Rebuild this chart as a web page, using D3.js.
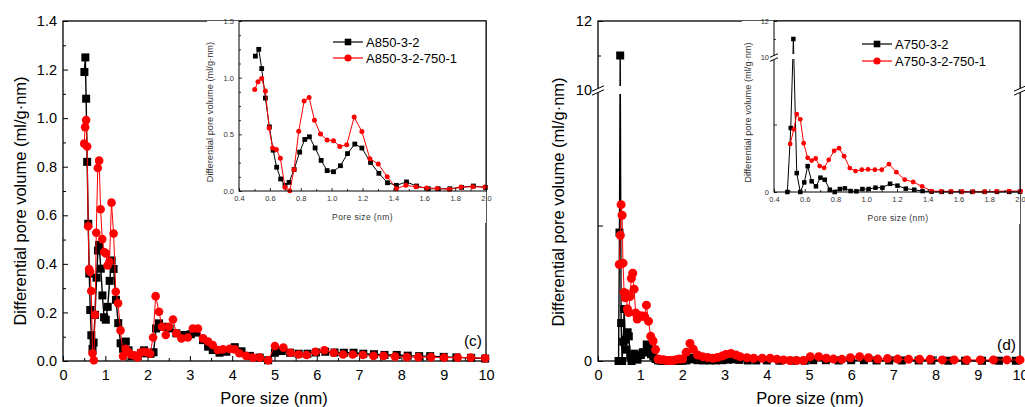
<!DOCTYPE html>
<html><head><meta charset="utf-8">
<script src="https://cdn.jsdelivr.net/npm/d3@7"></script>
<style>body{margin:0;background:#fff} svg{display:block} text{font-family:"Liberation Sans",Arial,sans-serif}</style>
</head><body><svg id="chart" width="1025" height="407"></svg>
<script>
// ---------- data ----------
const cBlackX = [0.506,0.528,0.547,0.571,0.597,0.621,0.644,0.670,0.698,0.724,0.757,0.793,0.826,0.856,0.893,0.932,0.971,1.012,1.057,1.103,1.150,1.196,1.252,1.306,1.362,1.420,1.485,1.550,1.626,1.690,1.766,1.842,1.918,1.996,2.07,2.14,2.20,2.27,2.36,2.52,2.68,2.87,3.02,3.15,3.31,3.43,3.54,3.70,3.86,4.06,4.22,4.42,4.65,4.85,5.01,5.17,5.37,5.57,5.78,5.98,6.20,6.42,6.64,6.87,7.10,7.35,7.60,7.89,8.15,8.42,8.68,9.00,9.30,9.65,9.98];
const cBlackY = [1.19,1.25,1.08,0.82,0.565,0.36,0.21,0.106,0.05,0.076,0.19,0.343,0.455,0.478,0.38,0.27,0.18,0.17,0.223,0.33,0.414,0.379,0.252,0.156,0.073,0.05,0.08,0.044,0.02,0.02,0.02,0.032,0.044,0.032,0.03,0.036,0.134,0.155,0.141,0.134,0.114,0.107,0.11,0.117,0.086,0.059,0.045,0.034,0.038,0.057,0.04,0.021,0.014,0.003,0.034,0.041,0.034,0.03,0.03,0.035,0.038,0.035,0.034,0.034,0.03,0.028,0.025,0.025,0.022,0.02,0.02,0.017,0.015,0.013,0.01];
const cRedX = [0.502,0.523,0.547,0.571,0.595,0.618,0.642,0.668,0.698,0.729,0.757,0.787,0.822,0.854,0.889,0.928,0.971,1.012,1.053,1.098,1.146,1.196,1.248,1.302,1.360,1.420,1.481,1.546,1.615,1.684,1.762,1.838,1.914,1.994,2.06,2.13,2.19,2.27,2.34,2.43,2.50,2.60,2.68,2.80,2.95,3.07,3.19,3.31,3.43,3.54,3.66,3.78,3.94,4.06,4.17,4.33,4.49,4.65,4.85,5.01,5.21,5.38,5.57,5.76,5.97,6.18,6.40,6.62,6.85,7.09,7.34,7.58,7.85,8.13,8.40,8.70,9.01,9.33,9.64,9.98];
const cRedY = [0.895,0.963,0.992,0.883,0.555,0.379,0.367,0.288,0.032,0.003,0.19,0.528,0.795,0.825,0.625,0.502,0.449,0.443,0.393,0.408,0.652,0.525,0.285,0.238,0.126,0.02,0.05,0.038,0.026,0.023,0.015,0.035,0.038,0.035,0.03,0.097,0.267,0.203,0.141,0.107,0.141,0.171,0.114,0.093,0.097,0.134,0.134,0.093,0.08,0.066,0.045,0.048,0.05,0.048,0.032,0.021,0.014,0.014,0.003,0.062,0.055,0.034,0.027,0.025,0.038,0.044,0.034,0.027,0.027,0.025,0.021,0.021,0.018,0.016,0.016,0.016,0.014,0.014,0.014,0.011];

const dBlackX = [0.487,0.509,0.526,0.548,0.571,0.597,0.619,0.645,0.673,0.702,0.730,0.763,0.795,0.828,0.861,0.898,0.936,0.975,1.016,1.060,1.105,1.155,1.203,1.257,1.312,1.366,1.425,1.49,1.55,1.62,1.69,1.77,1.85,1.93,2.00,2.09,2.18,2.26,2.36,2.50,2.65,2.80,2.95,3.08,3.20,3.35,3.55,3.75,4.0,4.3,4.6,4.9,5.1,5.4,5.7,6.0,6.3,6.6,6.9,7.2,7.6,7.9,8.3,8.7,9.1,9.5,9.9];
const dBlackY = [0,4.74,11.0,1.4,0,0.71,1.92,0.79,0.42,1.06,0.91,0.17,0,0.22,0.27,0.07,0.05,0.22,0.22,0.32,0.32,0.61,0.47,0.25,0.17,0.07,0.02,0.01,0.01,0.01,0.01,0.01,0.01,0.01,0.01,0.02,0.12,0.06,0.03,0.02,0.02,0.02,0.03,0.05,0.06,0.04,0.02,0.02,0.02,0.01,0.01,0.01,0.03,0.03,0.02,0.03,0.03,0.02,0.02,0.02,0.02,0.02,0.01,0.01,0.01,0.01,0.01];
const dRedX = [0.505,0.529,0.548,0.571,0.593,0.619,0.645,0.671,0.697,0.726,0.756,0.791,0.823,0.856,0.893,0.930,0.971,1.012,1.056,1.101,1.148,1.196,1.250,1.305,1.363,1.424,1.487,1.553,1.624,1.696,1.772,1.848,1.928,2.004,2.09,2.18,2.26,2.36,2.48,2.60,2.72,2.83,2.94,3.03,3.15,3.27,3.37,3.53,3.69,3.89,4.08,4.24,4.40,4.55,4.71,4.87,5.03,5.23,5.41,5.58,5.78,5.98,6.20,6.41,6.63,6.86,7.10,7.36,7.62,7.87,8.16,8.44,8.74,9.06,9.37,9.69,10.0];
const dRedY = [3.56,4.64,5.77,5.38,3.61,2.53,2.33,2.48,1.92,1.79,2.38,3.05,3.24,2.65,1.77,1.55,1.65,1.67,1.65,1.65,2.06,1.47,0.91,0.74,0.42,0.07,0.05,0.05,0.02,0.02,0.02,0.05,0.07,0.07,0.32,0.65,0.43,0.22,0.16,0.13,0.10,0.13,0.18,0.24,0.28,0.22,0.16,0.12,0.10,0.10,0.10,0.06,0.04,0.02,0.02,0.02,0.16,0.16,0.10,0.07,0.06,0.12,0.16,0.12,0.07,0.09,0.07,0.06,0.06,0.06,0.04,0.04,0.04,0.04,0.04,0.04,0.04];

const mainXTicks = [0,1,2,3,4,5,6,7,8,9,10];
const cMainYTicks = [0,0.2,0.4,0.6,0.8,1.0,1.2,1.4];
const insetXTicks = [0.4,0.6,0.8,1.0,1.2,1.4,1.6,1.8,2.0];
const cInsetYTicks = [0,0.5,1.0,1.5];
const dYTicks = [0,10,12];
const dYUnlabeled = [5];
const cLegend = ["A850-3-2","A850-3-2-750-1"];
const dLegend = ["A750-3-2","A750-3-2-750-1"];
const xTitle = "Pore size (nm)";
const yTitle = "Differential pore volume (ml/g\u00B7nm)";

const svg = d3.select("#chart");
const zip = (xs, ys) => xs.map((x,i)=>[x, ys[i]]);
let clipId = 0;

function drawAxes(g, x, y, o) {
  const fs = o.fs;
  g.append("g").attr("transform",`translate(0,${o.bottom})`)
    .call(d3.axisBottom(x).tickValues(o.xTicks).tickSize(-o.tick).tickSizeOuter(0).tickPadding(o.xPad).tickFormat(o.xFmt));
  g.append("g").attr("transform",`translate(0,${o.bottom})`)
    .call(d3.axisBottom(x).tickValues(o.xMinor).tickSize(-o.tickMinor).tickSizeOuter(0).tickFormat(""));
  g.append("g").attr("transform",`translate(${o.left},0)`)
    .call(d3.axisLeft(y).tickValues(o.yTicks).tickSize(-o.tick).tickSizeOuter(0).tickPadding(o.yPad).tickFormat(o.yFmt));
  g.append("g").attr("transform",`translate(${o.left},0)`)
    .call(d3.axisLeft(y).tickValues(o.yMinor).tickSize(-o.tickMinor).tickSizeOuter(0).tickFormat(""));
  g.selectAll(".domain").remove();
  g.selectAll(".tick line").attr("stroke","#000").attr("stroke-width",o.sw);
  g.selectAll(".tick text").attr("font-size",fs).attr("fill",o.labelColor).attr("font-family",'"Liberation Sans",Arial,sans-serif');
  g.append("rect").attr("x",o.left).attr("y",o.top).attr("width",o.right-o.left).attr("height",o.bottom-o.top)
    .attr("fill","none").attr("stroke","#000").attr("stroke-width",o.frameW);
}

function drawSeries(g, x, y, data, color, shape, size, lw, clip) {
  const gg = g.append("g").attr("clip-path", clip ? `url(#${clip})` : null);
  gg.append("path").datum(data).attr("fill","none").attr("stroke",color).attr("stroke-width",lw)
    .attr("d", d3.line().x(d=>x(d[0])).y(d=>y(d[1])));
  if (shape === "square") {
    gg.selectAll("rect.m").data(data).enter().append("rect").attr("class","m")
      .attr("x",d=>x(d[0])-size/2).attr("y",d=>y(d[1])-size/2).attr("width",size).attr("height",size).attr("fill",color);
  } else {
    gg.selectAll("circle.m").data(data).enter().append("circle").attr("class","m")
      .attr("cx",d=>x(d[0])).attr("cy",d=>y(d[1])).attr("r",size/2).attr("fill",color);
  }
}

function makeClip(l,t,r,b) {
  const id = "clip"+(clipId++);
  svg.append("defs").append("clipPath").attr("id",id).append("rect")
    .attr("x",l-6).attr("y",t-6).attr("width",r-l+12).attr("height",b-t+12);
  return id;
}

function breakMark(g, cx, cy, s) {
  g.append("polygon").attr("points",`${cx-s},${cy+s*0.45-1.5} ${cx+s},${cy-s*0.45-1.5} ${cx+s},${cy-s*0.45+2.5} ${cx-s},${cy+s*0.45+2.5}`)
    .attr("fill","#fff");
  [-1.5, 2.5].forEach(off => g.append("line")
    .attr("x1",cx-s).attr("y1",cy+s*0.45+off).attr("x2",cx+s).attr("y2",cy-s*0.45+off)
    .attr("stroke","#000").attr("stroke-width",1));
}

function legend(g, x0, x1, ys, labels, fs) {
  const cols = ["#000","#ff0000"];
  labels.forEach((lab,i)=>{
    const yy = ys[i];
    g.append("line").attr("x1",x0).attr("x2",x1).attr("y1",yy).attr("y2",yy).attr("stroke",cols[i]).attr("stroke-width",1.2);
    const cx = (x0+x1)/2;
    if (i===0) g.append("rect").attr("x",cx-3.3).attr("y",yy-3.3).attr("width",6.6).attr("height",6.6).attr("fill",cols[i]);
    else g.append("circle").attr("cx",cx).attr("cy",yy).attr("r",3.6).attr("fill",cols[i]);
    g.append("text").attr("x",x1+3).attr("y",yy).attr("dy","0.36em").attr("font-size",fs).attr("fill","#000").text(lab);
  });
}

function range(a,b,s){const r=[];for(let v=a;v<=b+1e-9;v+=s)r.push(+v.toFixed(4));return r;}

// ================= Panel (c) =================
{
  const g = svg.append("g");
  const M = {left:63,right:486,top:21,bottom:361};
  const x = d3.scaleLinear().domain([0,10]).range([M.left,M.right]);
  const y = d3.scaleLinear().domain([0,1.4]).range([M.bottom,M.top]);
  drawAxes(g,x,y,{...M,xTicks:mainXTicks,xMinor:range(0.5,9.5,1),yTicks:cMainYTicks,yMinor:range(0.1,1.3,0.2),
    tick:5,tickMinor:3,xPad:9,yPad:6,xFmt:d3.format("d"),yFmt:d3.format(".1f"),fs:14.5,sw:1,frameW:1.3,labelColor:"#000"});
  drawSeries(g,x,y,zip(cBlackX,cBlackY),"#000","square",8,1.4,null);
  drawSeries(g,x,y,zip(cRedX,cRedY),"#ff0000","circle",8.6,1,null);
  g.append("text").attr("x",(M.left+M.right)/2-0.5).attr("y",404).attr("text-anchor","middle").attr("font-size",16.5).text(xTitle);
  g.append("text").attr("transform","translate(20,201) rotate(-90)").attr("dy","0.36em").attr("text-anchor","middle").attr("font-size",16.5).text(yTitle);
  g.append("text").attr("x",482).attr("y",345.5).attr("text-anchor","end").attr("font-size",15.5).text("(c)");

  // inset
  const I = {left:239,right:486,top:21,bottom:191};
  const gi = svg.append("g");
  gi.append("rect").attr("x",I.left-32).attr("y",I.top).attr("width",I.right-I.left+32).attr("height",I.bottom-I.top+32).attr("fill","#fff");
  const xi = d3.scaleLinear().domain([0.4,2.0]).range([I.left,I.right]);
  const yi = d3.scaleLinear().domain([0,1.5]).range([I.bottom,I.top]);
  const clip = makeClip(I.left,I.top,I.right,I.bottom);
  drawSeries(gi,xi,yi,zip(cBlackX,cBlackY).filter(d=>d[0]<=2.01),"#000","square",4.8,1,clip);
  drawSeries(gi,xi,yi,zip(cRedX,cRedY).filter(d=>d[0]<=2.01),"#ff0000","circle",5,1,clip);
  drawAxes(gi,xi,yi,{...I,xTicks:insetXTicks,xMinor:range(0.5,1.9,0.2),yTicks:cInsetYTicks,yMinor:[0.125,0.25,0.375,0.625,0.75,0.875,1.125,1.25,1.375],
    tick:3,tickMinor:2,xPad:5,yPad:5,xFmt:d3.format(".1f"),yFmt:d3.format(".1f"),fs:7.5,sw:0.8,frameW:1,labelColor:"#333"});
  gi.append("text").attr("x",(I.left+I.right)/2).attr("y",220).attr("text-anchor","middle").attr("font-size",8.5).attr("fill","#333").attr("letter-spacing",0.4).text(xTitle);
  gi.append("text").attr("transform",`translate(210,${(I.top+I.bottom)/2+6}) rotate(-90)`).attr("dy","0.36em").attr("text-anchor","middle").attr("font-size",9.3).attr("fill","#333").text(yTitle);
  legend(gi,333,363,[42,58],cLegend,13);
}

// ================= Panel (d) =================
{
  const g = svg.append("g");
  const M = {left:598,right:1020,top:21,bottom:361};
  const x = d3.scaleLinear().domain([0,10]).range([M.left,M.right]);
  const y = d3.scaleLinear().domain([0,10,12]).range([M.bottom,90,M.top]);
  drawAxes(g,x,y,{...M,xTicks:mainXTicks,xMinor:range(0.5,9.5,1),yTicks:dYTicks.concat(dYUnlabeled),yMinor:[11],
    tick:5,tickMinor:3,xPad:9,yPad:6,xFmt:d3.format("d"),yFmt:d=>dYUnlabeled.includes(d)?"":d3.format("d")(d),fs:14.5,sw:1,frameW:1.3,labelColor:"#000"});
  drawSeries(g,x,y,zip(dBlackX,dBlackY),"#000","square",8,1.4,null);
  drawSeries(g,x,y,zip(dRedX,dRedY),"#ff0000","circle",9,1,null);
  // break gap across plot
  g.append("rect").attr("x",M.left+1).attr("y",y(10)-4).attr("width",M.right-M.left-2).attr("height",8).attr("fill","#fff");
  breakMark(g,M.left,y(10),6);
  g.append("text").attr("x",(M.left+M.right)/2+1).attr("y",404).attr("text-anchor","middle").attr("font-size",16.5).text(xTitle);
  g.append("text").attr("transform","translate(558,202) rotate(-90)").attr("dy","0.36em").attr("text-anchor","middle").attr("font-size",16.5).text(yTitle);
  g.append("text").attr("x",1016).attr("y",350).attr("text-anchor","end").attr("font-size",15.5).text("(d)");

  // inset
  const I = {left:774,right:1020,top:21,bottom:192};
  const gi = svg.append("g");
  gi.append("rect").attr("x",I.left-32).attr("y",I.top).attr("width",I.right-I.left+32).attr("height",I.bottom-I.top+32).attr("fill","#fff");
  const xi = d3.scaleLinear().domain([0.4,2.0]).range([I.left,I.right]);
  const yi = d3.scaleLinear().domain([0,10,12]).range([I.bottom,57,I.top]);
  const clip = makeClip(I.left,I.top,I.right,I.bottom);
  drawSeries(gi,xi,yi,zip(dBlackX,dBlackY).filter(d=>d[0]<=2.01),"#000","square",4.5,1,clip);
  drawSeries(gi,xi,yi,zip(dRedX,dRedY).filter(d=>d[0]<=2.01),"#ff0000","circle",4.8,1,clip);
  gi.append("rect").attr("x",I.left+1).attr("y",yi(10)-3).attr("width",I.right-I.left-2).attr("height",5).attr("fill","#fff");
  drawAxes(gi,xi,yi,{...I,xTicks:insetXTicks,xMinor:range(0.5,1.9,0.2),yTicks:dYTicks.concat(dYUnlabeled),yMinor:[11],
    tick:3,tickMinor:2,xPad:5,yPad:5,xFmt:d3.format(".1f"),yFmt:d=>dYUnlabeled.includes(d)?"":d3.format("d")(d),fs:7.5,sw:0.8,frameW:1,labelColor:"#333"});
  breakMark(gi,I.left,yi(10),4);
  gi.append("text").attr("x",(I.left+I.right)/2+1).attr("y",221).attr("text-anchor","middle").attr("font-size",8.5).attr("fill","#333").attr("letter-spacing",0.4).text(xTitle);
  gi.append("text").attr("transform",`translate(748,${(I.top+I.bottom)/2+6}) rotate(-90)`).attr("dy","0.36em").attr("text-anchor","middle").attr("font-size",9.3).attr("fill","#333").text(yTitle);
  legend(gi,862,892,[44,61],dLegend,13);
  // main right-axis break drawn over inset edge
  breakMark(svg.append("g"),M.right,y(10),6);
}
</script></body></html>
